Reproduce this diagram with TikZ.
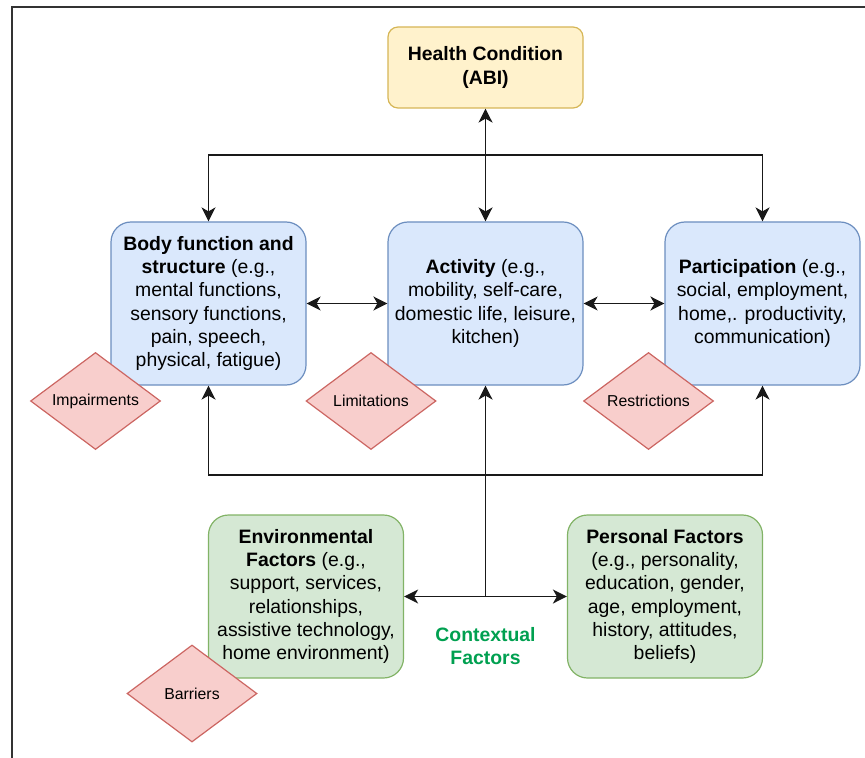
\documentclass[tikz,border=0pt]{standalone}
\usepackage{fontspec}
\setmainfont{Liberation Sans}
\usetikzlibrary{shapes.geometric,arrows.meta}
\definecolor{bluefill}{HTML}{DAE8FC}
\definecolor{blueline}{HTML}{6C8EBF}
\definecolor{greenfill}{HTML}{D5E8D4}
\definecolor{greenline}{HTML}{82B366}
\definecolor{yellowfill}{HTML}{FFF2CC}
\definecolor{yellowline}{HTML}{D6B656}
\definecolor{redfill}{HTML}{F8CECC}
\definecolor{redline}{HTML}{CC6662}
\definecolor{ctxgreen}{RGB}{0,160,80}

\begin{document}
\begin{tikzpicture}[x=0.5pt, y=-0.5pt,
  box/.style={draw, rounded corners=10pt, line width=0.6pt, minimum width=97.5pt, minimum height=81.5pt, align=center, inner sep=2pt, font=\fontsize{9.7}{11.6}\selectfont},
  diam/.style={diamond, draw=redline, fill=redfill, line width=0.6pt, aspect=2, minimum width=65pt, minimum height=48.5pt, inner sep=0pt, font=\fontsize{7.9}{9}\selectfont},
  tip/.style={line width=0.85pt, black!90, -{Stealth[length=7pt,width=7pt,inset=2pt]}},
  twotip/.style={line width=0.85pt, black!90, {Stealth[length=7pt,width=7pt,inset=2pt]}-{Stealth[length=7pt,width=7pt,inset=2pt]}}]
\useasboundingbox (0,0) rectangle (865,758);
% Frame
\draw[black!80, line width=1pt] (11.5,758) -- (11.5,7.5) -- (865,7.5);

% Health condition
\node[box, draw=yellowline, fill=yellowfill, rounded corners=5pt, minimum height=40.5pt] (hc) at (485.5,67.5) {\textbf{Health Condition}\\\textbf{(ABI)}};

% Middle row
\node[box, draw=blueline, fill=bluefill] (body) at (208.5,303.5) {\textbf{Body function and}\\\textbf{structure} (e.g.,\\mental functions,\\sensory functions,\\pain, speech,\\physical, fatigue)};
\node[box, draw=blueline, fill=bluefill] (act) at (485.5,303.5) {\textbf{Activity} (e.g.,\\mobility, self-care,\\domestic life, leisure,\\kitchen)};
\node[box, draw=blueline, fill=bluefill] (part) at (762.5,303.5) {\textbf{Participation} (e.g.,\\social, employment,\\home,. productivity,\\communication)};

% Bottom row
\node[box, draw=greenline, fill=greenfill] (env) at (306,596.5) {\textbf{Environmental}\\\textbf{Factors} (e.g.,\\support, services,\\relationships,\\assistive technology,\\home environment)};
\node[box, draw=greenline, fill=greenfill] (pers) at (665,596.5) {\textbf{Personal Factors}\\(e.g., personality,\\education, gender,\\age, employment,\\history, attitudes,\\beliefs)};
\node[align=center, text=ctxgreen, font=\fontsize{9.7}{11.6}\selectfont\bfseries] (ctxlabel) at (485.5,646) {Contextual\\Factors};

% Arrows
\coordinate (topbar) at (485.5,155);
\coordinate (botbar) at (485.5,475);
\coordinate (ctx) at (485.5,596.5);
\draw[twotip] (hc) -- (act);
\draw[tip] (topbar) -| (body.north);
\draw[tip] (topbar) -| (part.north);
\draw[twotip] (body) -- (act);
\draw[twotip] (act) -- (part);
\draw[tip] (ctx) -- (act.south);
\draw[tip] (botbar) -| (body.south);
\draw[tip] (botbar) -| (part.south);
\draw[twotip] (env) -- (pers);

% Qualifiers
\node[diam] (imp) at (95.5,401) {Impairments};
\node[diam] (lim) at (371,401) {Limitations};
\node[diam] (res) at (648.5,401) {Restrictions};
\node[diam] (bar) at (192,693.5) {Barriers};
\end{tikzpicture}
\end{document}
